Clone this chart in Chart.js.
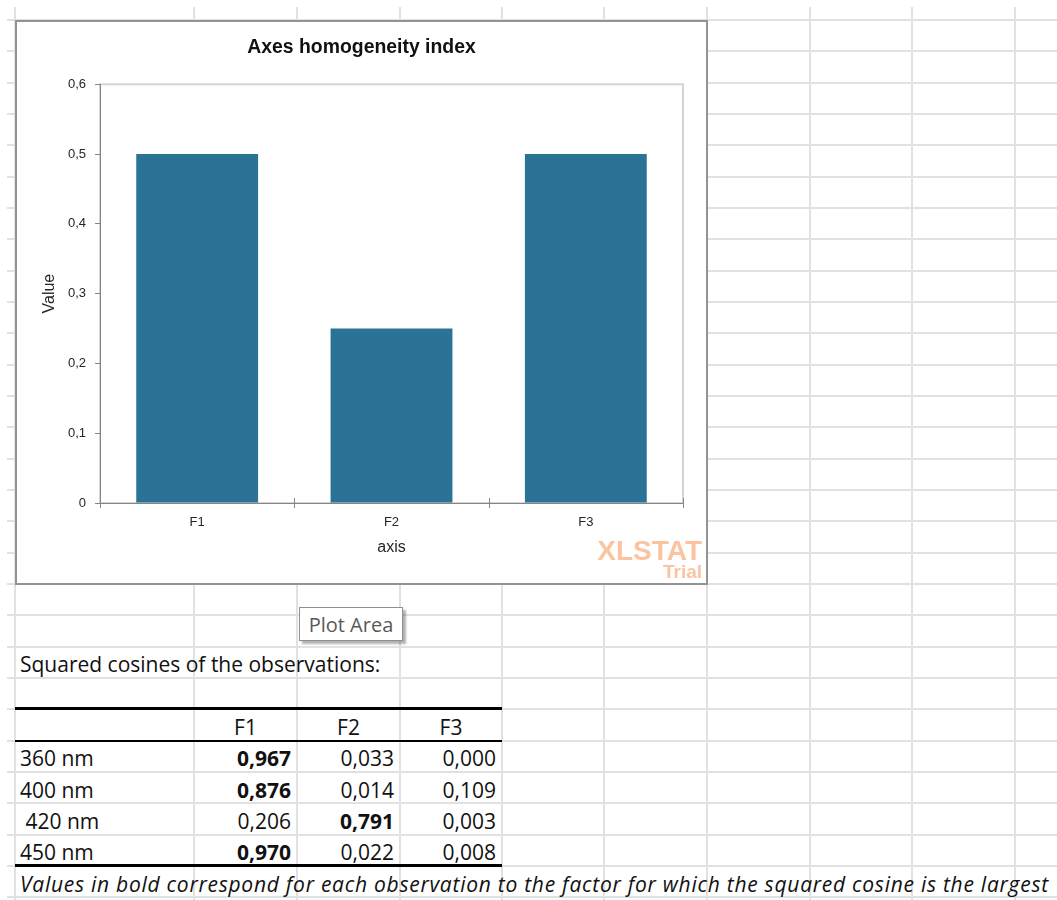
<!DOCTYPE html>
<html>
<head>
<meta charset="utf-8">
<title>Axes homogeneity index</title>
<script src="https://cdn.jsdelivr.net/npm/chart.js@4.4.1/dist/chart.umd.min.js"></script>
<style>
  body { margin: 0; background: #fff; width: 1057px; height: 900px; overflow: hidden; position: relative; font-family: "Open Sans", sans-serif; }
  .gl { position: absolute; background: #e1e1e1; }
  .tb { position: absolute; background: #000; }
  #chartBox { position: absolute; left: 15px; top: 20px; width: 693px; height: 565px; box-sizing: border-box; border: 2px solid #939393; background: #fff; }
  #chartWrap { position: absolute; left: 0; top: 0; width: 689px; height: 561px; }
  .cell { position: absolute; font-size: 21px; white-space: nowrap; color: #111; display: flex; align-items: center; }
  #plotTip { position: absolute; left: 299px; top: 607px; width: 104px; height: 34px; box-sizing: border-box; border: 1px solid #8f8f8f; background: #fff;
    box-shadow: 3px 3px 2px rgba(0,0,0,0.3); color: #595959; font-size: 20px; display: flex; align-items: center; justify-content: center; }
</style>
</head>
<body>
<div id="sheet"></div>
<div id="chartBox"><div id="chartWrap"><canvas id="homogeneityChart"></canvas></div></div>
<div id="plotTip">Plot Area</div>
<script>
// Chart data
const axisNames = ['F1', 'F2', 'F3'];
const homogeneity = [0.5, 0.25, 0.5];
const yTickLabels = ['0', '0,1', '0,2', '0,3', '0,4', '0,5', '0,6'];

// Table data (squared cosines)
const obsLabels = ['360 nm', '400 nm', '\u00a0420 nm', '450 nm'];
const factorNames = ['F1', 'F2', 'F3'];
const cosF1 = [0.967, 0.876, 0.206, 0.970];
const cosF2 = [0.033, 0.014, 0.791, 0.022];
const cosF3 = [0.000, 0.109, 0.003, 0.008];

// Sheet layout
const colEdges = [15, 194, 297, 400, 502, 604, 707, 810, 912, 1015];
const rowTop = 20, rowH = 31.33;
const rowY = k => rowTop + k * rowH;

const sheet = document.getElementById('sheet');

function addDiv(cls, x, y, w, h) {
    const d = document.createElement('div');
    d.className = cls;
    d.style.left = x + 'px'; d.style.top = y + 'px';
    d.style.width = w + 'px'; d.style.height = h + 'px';
    sheet.appendChild(d);
    return d;
}

// Spreadsheet gridlines
colEdges.forEach(x => addDiv('gl', x - 1, 7, 2, 900));
for (let k = 0; k <= 28; k++) addDiv('gl', 7, rowY(k) - 1, 1057, 2);

function addText(text, x, k, w, align, style) {
    const d = addDiv('cell', x, rowY(k) + 2, w, rowH);
    d.textContent = text;
    d.style.justifyContent = align === 'right' ? 'flex-end' : align === 'center' ? 'center' : 'flex-start';
    if (style) Object.assign(d.style, style);
    return d;
}

const fmt = v => v.toFixed(3).replace('.', ',');

// Table
addText('Squared cosines of the observations:', 20, 20, 480, 'left');
factorNames.forEach((f, j) => addText(f, colEdges[j + 1], 22, colEdges[j + 2] - colEdges[j + 1], 'center'));
const cols = [cosF1, cosF2, cosF3];
obsLabels.forEach((lab, i) => {
    addText(lab, 20, 23 + i, 170, 'left');
    const row = cols.map(c => c[i]);
    const best = Math.max(...row);
    row.forEach((v, j) => {
        addText(fmt(v), colEdges[j + 1], 23 + i, colEdges[j + 2] - colEdges[j + 1] - 6, 'right',
            v === best ? { fontWeight: 'bold' } : null);
    });
});
addText('Values in bold correspond for each observation to the factor for which the squared cosine is the largest',
    20, 27, 1040, 'left', { fontStyle: 'italic', letterSpacing: '0.74px' });

// Table borders
addDiv('tb', 15, rowY(22) - 2, 487, 3);
addDiv('tb', 15, rowY(23) - 1, 487, 2);
addDiv('tb', 15, rowY(27) - 2, 487, 3);

// Chart plugins
const plotFrame = {
    id: 'plotFrame',
    beforeDraw(chart) {
        const { ctx, chartArea: a } = chart;
        ctx.save();
        ctx.fillStyle = '#fff';
        ctx.fillRect(0, 0, chart.width, chart.height);
        ctx.strokeStyle = '#d4d4d4';
        ctx.lineWidth = 2;
        ctx.strokeRect(a.left, a.top, a.right - a.left, a.bottom - a.top);
        ctx.restore();
    }
};

const crossTicks = {
    id: 'crossTicks',
    afterDraw(chart) {
        const { ctx } = chart;
        const xs = chart.scales.x;
        ctx.save();
        ctx.strokeStyle = '#868686';
        ctx.lineWidth = 1;
        ctx.beginPath();
        for (let i = 0; i <= axisNames.length; i++) {
            const px = Math.round(xs.getPixelForValue(i - 0.5)) + 0.5;
            ctx.moveTo(px, xs.top - 5);
            ctx.lineTo(px, xs.top + 5);
        }
        ctx.stroke();
        ctx.restore();
    }
};

const watermark = {
    id: 'watermark',
    afterDraw(chart) {
        const ctx = chart.ctx;
        ctx.save();
        ctx.fillStyle = '#fcc3a1';
        ctx.textAlign = 'right';
        ctx.textBaseline = 'middle';
        ctx.font = 'bold 28px "Liberation Sans"';
        ctx.fillText('XLSTAT', chart.width - 4, 530);
        ctx.font = 'bold 19px "Liberation Sans"';
        ctx.fillText('Trial', chart.width - 4, 551);
        ctx.restore();
    }
};

Chart.defaults.font.family = '"Liberation Sans", Arial, sans-serif';

const ctx = document.getElementById('homogeneityChart').getContext('2d');
new Chart(ctx, {
    type: 'bar',
    data: {
        labels: axisNames,
        datasets: [{
            label: 'Value',
            data: homogeneity,
            backgroundColor: '#2b7396',
            barPercentage: 0.627,
            categoryPercentage: 1,
            yAxisID: 'y'
        }]
    },
    options: {
        responsive: true,
        maintainAspectRatio: false,
        animation: false,
        layout: { padding: 0 },
        plugins: {
            legend: { display: false },
            tooltip: { enabled: false },
            title: {
                display: true,
                text: 'Axes homogeneity index',
                color: '#111',
                font: { size: 19.4, weight: 'bold' },
                padding: { top: 14, bottom: 25 }
            }
        },
        scales: {
            x: {
                grid: { display: false },
                border: { display: true, color: '#868686', width: 1 },
                ticks: { color: '#262626', font: { size: 13 }, padding: 4 },
                title: { display: true, text: 'axis', color: '#262626', font: { size: 16 }, padding: { top: 0, bottom: 26 } },
                afterFit(scale) { scale.height = 80; }
            },
            y: {
                min: 0,
                max: 0.6,
                ticks: {
                    stepSize: 0.1,
                    padding: 9,
                    color: '#262626',
                    font: { size: 13 },
                    callback: (value, index) => yTickLabels[index]
                },
                grid: { drawOnChartArea: false, tickLength: 5, color: '#868686' },
                border: { color: '#868686', width: 1 },
                title: { display: true, text: 'Value', color: '#262626', font: { size: 16 }, padding: { top: 23, bottom: 0 } },
                afterFit(scale) { scale.width = 83; }
            },
            // empty right-hand strip that keeps the plot area off the chart edge
            yRight: {
                position: 'right',
                min: 0,
                max: 0.6,
                grid: { display: false },
                border: { display: false },
                ticks: { display: false },
                afterFit(scale) { scale.width = 23; }
            }
        }
    },
    plugins: [plotFrame, crossTicks, watermark]
});
</script>
</body>
</html>
